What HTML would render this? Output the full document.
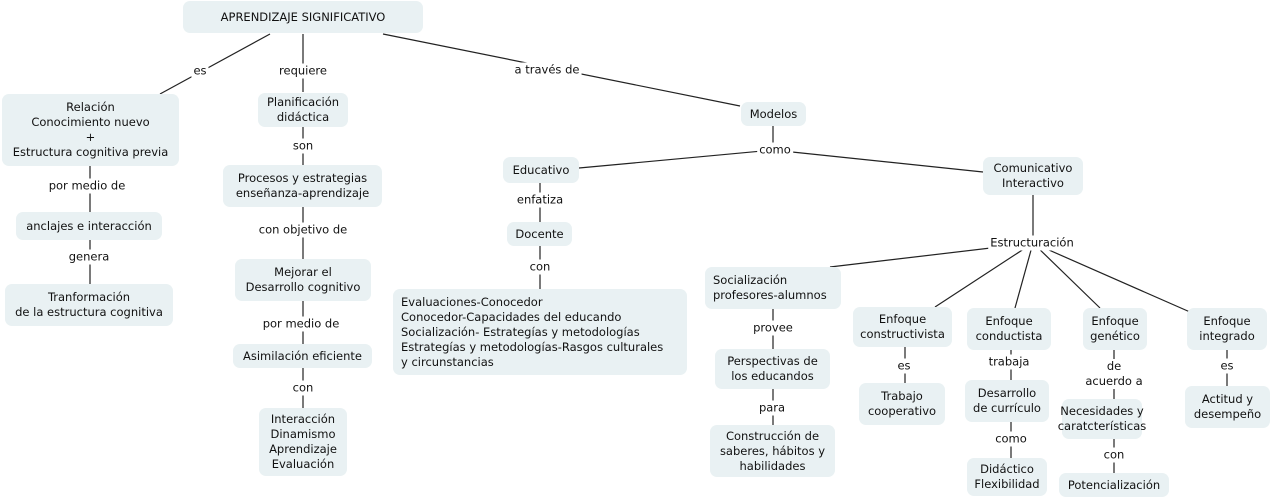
<!DOCTYPE html>
<html><head><meta charset="utf-8"><style>
body{margin:0;width:1273px;height:502px;background:#fff;position:relative;overflow:hidden;font-family:"DejaVu Sans","Liberation Sans",sans-serif;font-size:11.5px;color:#111}
.b{position:absolute;background:#e9f1f3;border-radius:7px;display:flex;align-items:center;justify-content:center;text-align:center;line-height:15px;box-sizing:border-box}
.l{position:absolute;background:#fff;transform:translate(-50%,-50%);white-space:nowrap;line-height:15px;text-align:center;padding:0 2px}
svg{position:absolute;left:0;top:0}
</style></head><body>
<svg width="1273" height="502" stroke="#222" stroke-width="1.2">
<line x1="270" y1="34" x2="160" y2="94"/>
<line x1="303" y1="34" x2="303" y2="92"/>
<line x1="383" y1="34" x2="740" y2="106"/>
<line x1="303" y1="127" x2="303" y2="165"/>
<line x1="90" y1="166" x2="90" y2="284"/>
<line x1="303" y1="207" x2="303" y2="408"/>
<line x1="773" y1="126" x2="773" y2="150"/>
<line x1="773" y1="150" x2="579" y2="168"/>
<line x1="773" y1="150" x2="983" y2="172"/>
<line x1="540" y1="183" x2="540" y2="289"/>
<line x1="1033" y1="195" x2="1033" y2="243"/>
<line x1="1033" y1="243" x2="830" y2="267"/>
<line x1="1033" y1="243" x2="935" y2="307"/>
<line x1="1033" y1="243" x2="1015" y2="308"/>
<line x1="1033" y1="243" x2="1100" y2="308"/>
<line x1="1033" y1="243" x2="1190" y2="312"/>
<line x1="773" y1="309" x2="773" y2="425"/>
<line x1="905" y1="347" x2="905" y2="383"/>
<line x1="1011" y1="350" x2="1011" y2="458"/>
<line x1="1114" y1="350" x2="1114" y2="473"/>
<line x1="1227" y1="350" x2="1227" y2="386"/>
</svg>
<div class="b" style="left:183px;top:1px;width:240px;height:32px">APRENDIZAJE SIGNIFICATIVO</div>
<div class="b" style="left:2px;top:94px;width:177px;height:72px">Relación<br>Conocimiento nuevo<br>+<br>Estructura cognitiva previa</div>
<div class="b" style="left:258px;top:93px;width:90px;height:34px">Planificación<br>didáctica</div>
<div class="b" style="left:223px;top:165px;width:159px;height:42px">Procesos y estrategias<br>enseñanza-aprendizaje</div>
<div class="b" style="left:235px;top:259px;width:136px;height:42px">Mejorar el<br>Desarrollo cognitivo</div>
<div class="b" style="left:233px;top:344px;width:139px;height:24px">Asimilación eficiente</div>
<div class="b" style="left:259px;top:408px;width:88px;height:68px">Interacción<br>Dinamismo<br>Aprendizaje<br>Evaluación</div>
<div class="b" style="left:16px;top:212px;width:146px;height:28px">anclajes e interacción</div>
<div class="b" style="left:5px;top:284px;width:168px;height:42px">Tranformación<br>de la estructura cognitiva</div>
<div class="b" style="left:741px;top:102px;width:65px;height:24px">Modelos</div>
<div class="b" style="left:503px;top:157px;width:76px;height:26px">Educativo</div>
<div class="b" style="left:507px;top:222px;width:65px;height:24px">Docente</div>
<div class="b" style="left:393px;top:289px;width:294px;height:86px;justify-content:flex-start;text-align:left;padding-left:8px">Evaluaciones-Conocedor<br>Conocedor-Capacidades del educando<br>Socialización- Estrategías y metodologías<br>Estrategías y metodologías-Rasgos culturales<br>y circunstancias</div>
<div class="b" style="left:983px;top:157px;width:100px;height:38px">Comunicativo<br>Interactivo</div>
<div class="b" style="left:705px;top:267px;width:136px;height:42px;justify-content:flex-start;text-align:left;padding-left:8px">Socialización<br>profesores-alumnos</div>
<div class="b" style="left:715px;top:349px;width:115px;height:40px">Perspectivas de<br>los educandos</div>
<div class="b" style="left:710px;top:425px;width:125px;height:52px">Construcción de<br>saberes, hábitos y<br>habilidades</div>
<div class="b" style="left:853px;top:307px;width:99px;height:40px">Enfoque<br>constructivista</div>
<div class="b" style="left:859px;top:383px;width:86px;height:42px">Trabajo<br>cooperativo</div>
<div class="b" style="left:967px;top:308px;width:84px;height:42px">Enfoque<br>conductista</div>
<div class="b" style="left:965px;top:380px;width:84px;height:42px">Desarrollo<br>de currículo</div>
<div class="b" style="left:967px;top:458px;width:80px;height:38px">Didáctico<br>Flexibilidad</div>
<div class="b" style="left:1083px;top:308px;width:64px;height:42px">Enfoque<br>genético</div>
<div class="b" style="left:1062px;top:399px;width:80px;height:40px">Necesidades y<br>caratcterísticas</div>
<div class="b" style="left:1059px;top:473px;width:110px;height:24px">Potencialización</div>
<div class="b" style="left:1187px;top:308px;width:80px;height:42px">Enfoque<br>integrado</div>
<div class="b" style="left:1185px;top:386px;width:85px;height:42px">Actitud y<br>desempeño</div>
<div class="l" style="left:200px;top:71px">es</div>
<div class="l" style="left:303px;top:71px">requiere</div>
<div class="l" style="left:547px;top:70px">a través de</div>
<div class="l" style="left:303px;top:146px">son</div>
<div class="l" style="left:87px;top:186px">por medio de</div>
<div class="l" style="left:89px;top:257px">genera</div>
<div class="l" style="left:303px;top:230px">con objetivo de</div>
<div class="l" style="left:301px;top:324px">por medio de</div>
<div class="l" style="left:303px;top:388px">con</div>
<div class="l" style="left:775px;top:150px">como</div>
<div class="l" style="left:540px;top:200px">enfatiza</div>
<div class="l" style="left:540px;top:267px">con</div>
<div class="l" style="left:1032px;top:243px">Estructuración</div>
<div class="l" style="left:773px;top:328px">provee</div>
<div class="l" style="left:772px;top:408px">para</div>
<div class="l" style="left:904px;top:366px">es</div>
<div class="l" style="left:1009px;top:362px">trabaja</div>
<div class="l" style="left:1011px;top:439px">como</div>
<div class="l" style="left:1114px;top:374px">de<br>acuerdo a</div>
<div class="l" style="left:1114px;top:455px">con</div>
<div class="l" style="left:1227px;top:366px">es</div>
</body></html>
